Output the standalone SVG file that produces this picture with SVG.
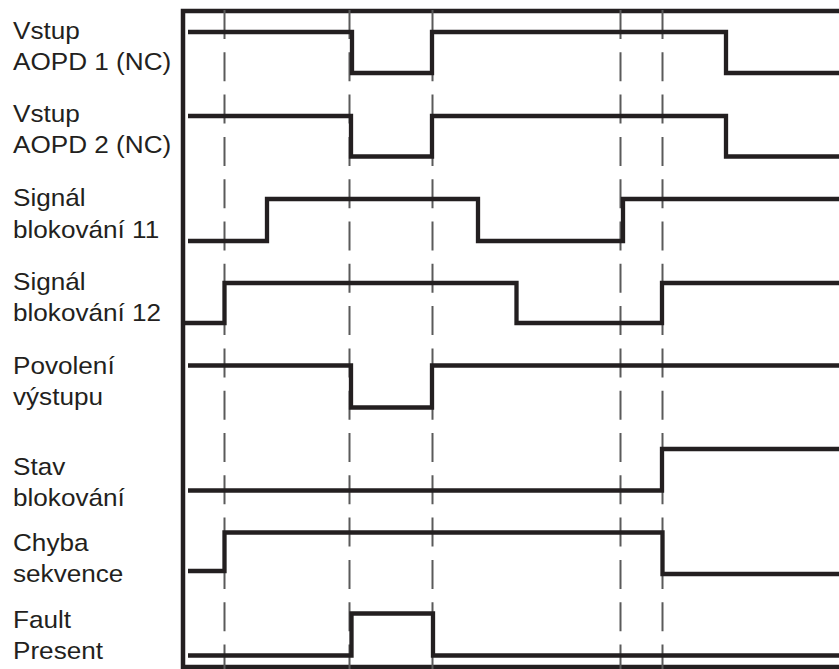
<svg xmlns="http://www.w3.org/2000/svg" width="839" height="669" viewBox="0 0 839 669">
<style>
.lbl{font-family:"Liberation Sans",Arial,Helvetica,sans-serif;font-size:24.2px;fill:#231f20}
.sig{fill:none;stroke:#231f20;stroke-width:4.3;stroke-linejoin:miter;stroke-linecap:butt}
.grid{fill:none;stroke:#5a5a5a;stroke-width:2;stroke-dasharray:29 13.3}
.frame{fill:none;stroke:#231f20;stroke-width:4.5}
</style>
<rect width="839" height="669" fill="#ffffff"/>
<g id="frame">
<path class="frame" d="M839,11 H183 V667 H839"/>
</g>
<g id="grid">
<line class="grid" x1="224.5" y1="10" x2="224.5" y2="669"/>
<line class="grid" x1="349.5" y1="10" x2="349.5" y2="669"/>
<line class="grid" x1="432.5" y1="10" x2="432.5" y2="669"/>
<line class="grid" x1="620.5" y1="10" x2="620.5" y2="669"/>
<line class="grid" x1="662.5" y1="10" x2="662.5" y2="669"/>
</g>
<g id="aopd1">
<g transform="translate(13,0) scale(1.08,1)"><text class="lbl" x="0" y="39.5">Vstup</text><text class="lbl" x="0" y="70">AOPD 1 (NC)</text></g>
<polyline class="sig" points="188,32 352,32 352,73 432,73 432,32 726,32 726,73 839,73"/>
</g>
<g id="aopd2">
<g transform="translate(13,0) scale(1.08,1)"><text class="lbl" x="0" y="122.5">Vstup</text><text class="lbl" x="0" y="153">AOPD 2 (NC)</text></g>
<polyline class="sig" points="188,116 351,116 351,156.5 432,156.5 432,116 726,116 726,156.5 839,156.5"/>
</g>
<g id="sig11">
<g transform="translate(13,0) scale(1.08,1)"><text class="lbl" x="0" y="206.5">Signál</text><text class="lbl" x="0" y="238">blokování 11</text></g>
<polyline class="sig" points="188,241 267,241 267,199 478,199 478,241 623,241 623,199 839,199"/>
</g>
<g id="sig12">
<g transform="translate(13,0) scale(1.08,1)"><text class="lbl" x="0" y="290">Signál</text><text class="lbl" x="0" y="321">blokování 12</text></g>
<polyline class="sig" points="185,323 224.5,323 224.5,283 516.5,283 516.5,323 662,323 662,283 839,283"/>
</g>
<g id="povoleni">
<g transform="translate(13,0) scale(1.08,1)"><text class="lbl" x="0" y="374">Povolení</text><text class="lbl" x="0" y="405">výstupu</text></g>
<polyline class="sig" points="188,365.5 351,365.5 351,407.5 432,407.5 432,365.5 839,365.5"/>
</g>
<g id="stav">
<g transform="translate(13,0) scale(1.08,1)"><text class="lbl" x="0" y="475">Stav</text><text class="lbl" x="0" y="506">blokování</text></g>
<polyline class="sig" points="188,490.5 662,490.5 662,449 839,449"/>
</g>
<g id="chyba">
<g transform="translate(13,0) scale(1.08,1)"><text class="lbl" x="0" y="551">Chyba</text><text class="lbl" x="0" y="582">sekvence</text></g>
<polyline class="sig" points="188,571 224.5,571 224.5,532.5 662.5,532.5 662.5,574 839,574"/>
</g>
<g id="fault">
<g transform="translate(13,0) scale(1.08,1)"><text class="lbl" x="0" y="628">Fault</text><text class="lbl" x="0" y="659.5">Present</text></g>
<polyline class="sig" points="188,655.5 351.5,655.5 351.5,613.5 433,613.5 433,655.5 839,655.5"/>
</g>
</svg>
